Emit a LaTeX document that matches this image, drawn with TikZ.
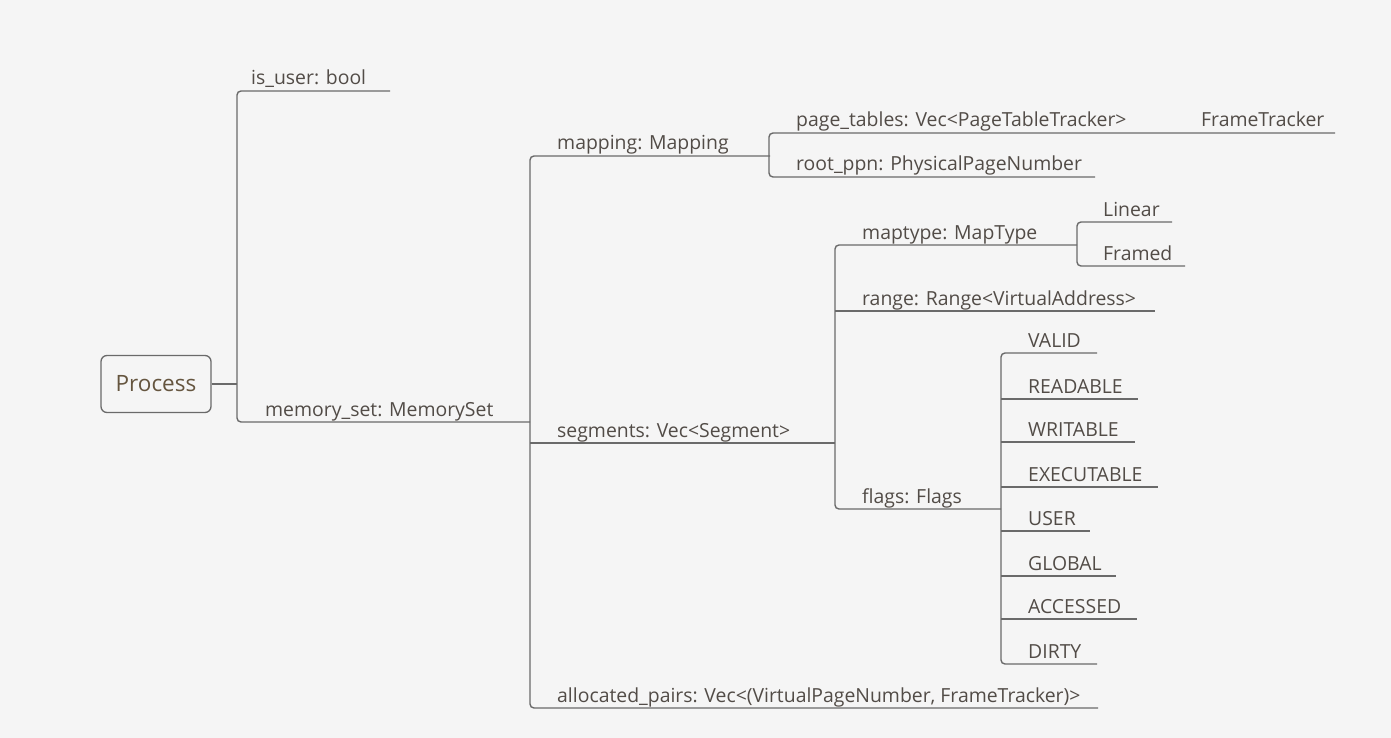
\documentclass[tikz,border=0pt]{standalone}
\usepackage{fontspec}
\setmainfont{Open Sans}
\definecolor{bg}{HTML}{F5F5F5}
\definecolor{ln}{HTML}{6A6A6A}
\definecolor{tx}{HTML}{524C47}
\definecolor{ptx}{HTML}{65553F}
\begin{document}
\begin{tikzpicture}[x=1pt,y=-1pt,
  br/.style={draw=ln, line width=1.4pt, rounded corners=4pt},
  lbl/.style={anchor=base west, inner sep=0pt, text=tx, font=\fontsize{19.4}{19.4}\selectfont},
  rootbox/.style={draw=ln, line width=1.3pt, rounded corners=6pt, minimum width=110pt, minimum height=57pt, inner sep=0pt, text=ptx, font=\fontsize{22.5}{22.5}\selectfont}
]
\fill[bg] (0,0) rectangle (1391,738);
\useasboundingbox (0,0) rectangle (1391,738);

% root
\node[rootbox] (proc) at (156,384) {Process};

% labels
\node[lbl] (isuser) at (251,85) {is\_user: bool};
\node[lbl] (memset) at (265,416) {memory\_set: MemorySet};
\node[lbl] (mapping) at (557,150) {mapping: Mapping};
\node[lbl] (segments) at (557,437) {segments: Vec<Segment>};
\node[lbl] (alloc) at (557,702) {allocated\_pairs: Vec<(VirtualPageNumber, FrameTracker)>};
\node[lbl] (pagetables) at (796,127) {page\_tables: Vec<PageTableTracker>};
\node[lbl] (frametracker) at (1201,127) {FrameTracker};
\node[lbl] (rootppn) at (796,171) {root\_ppn: PhysicalPageNumber};
\node[lbl] (maptype) at (862,239) {maptype: MapType};
\node[lbl] (linear) at (1103,216) {Linear};
\node[lbl] (framed) at (1103,260) {Framed};
\node[lbl] (range) at (862,305) {range: Range<VirtualAddress>};
\node[lbl] (flags) at (862,503) {flags: Flags};
\node[lbl] (valid) at (1028,347) {VALID};
\node[lbl] (readable) at (1028,393) {READABLE};
\node[lbl] (writable) at (1028,436) {WRITABLE};
\node[lbl] (executable) at (1028,481) {EXECUTABLE};
\node[lbl] (user) at (1028,525) {USER};
\node[lbl] (global) at (1028,570) {GLOBAL};
\node[lbl] (accessed) at (1028,613) {ACCESSED};
\node[lbl] (dirty) at (1028,658) {DIRTY};

% connectors
\coordinate (t1) at (237,384);
\draw[br] (proc.east) -- (t1);
\draw[br] (390,91) -- (237,91) -- (237,422) -- (530,422);

\draw[br] (770,156) -- (530,156) -- (530,708) -- (1098,708);
\draw[br] (530,443) -- (835,443);

\draw[br] (1335,133) -- (769,133) -- (769,177) -- (1095,177);

\draw[br] (1077,245) -- (835,245) -- (835,509) -- (1001,509);
\draw[br] (835,311) -- (1155,311);

\draw[br] (1172,222) -- (1077,222) -- (1077,266) -- (1185,266);

\draw[br] (1097,353) -- (1001,353) -- (1001,664) -- (1097,664);
\draw[br] (1001,399) -- (1138,399);
\draw[br] (1001,442) -- (1135,442);
\draw[br] (1001,487) -- (1158,487);
\draw[br] (1001,531) -- (1090,531);
\draw[br] (1001,576) -- (1116,576);
\draw[br] (1001,619) -- (1137,619);
\end{tikzpicture}
\end{document}
